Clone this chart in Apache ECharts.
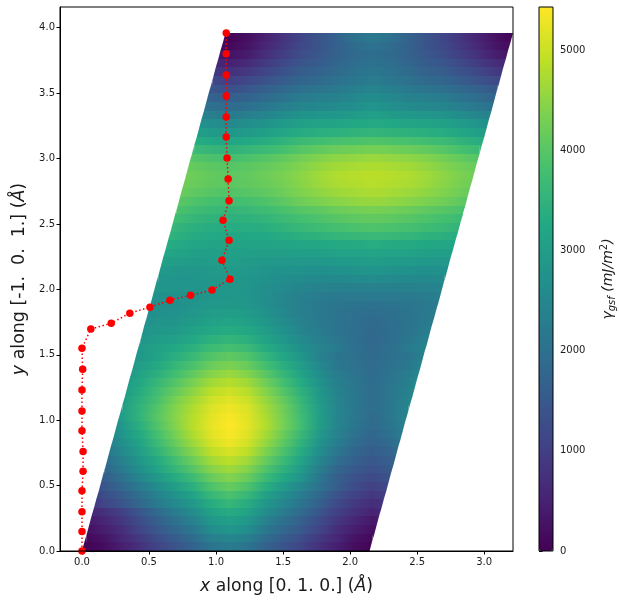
<!DOCTYPE html>
<html>
<head>
<meta charset="utf-8">
<style>html,body{margin:0;padding:0;background:#fff}#c{width:619px;height:605px}</style>
<script src="https://cdn.jsdelivr.net/npm/echarts@6/dist/echarts.min.js"></script>
</head>
<body>
<div id="c"></div>
<script>
// Tick labels
const xTicks = [0, 0.5, 1, 1.5, 2, 2.5, 3];
const yTicks = [0, 0.5, 1, 1.5, 2, 2.5, 3, 3.5, 4];
const barTicks = [0, 1000, 2000, 3000, 4000, 5000];
// Minimum energy path points
const pathX = [0,0,0,0,0.008,0.008,0,0,0,0.005,0,0.066,0.218,0.357,0.507,0.656,0.81,0.97,1.104,1.044,1.097,1.052,1.097,1.09,1.082,1.076,1.076,1.076,1.076,1.076,1.076];
const pathY = [0,0.15,0.30,0.46,0.61,0.76,0.92,1.07,1.23,1.39,1.55,1.696,1.741,1.818,1.864,1.917,1.955,1.994,2.078,2.223,2.376,2.529,2.677,2.843,3.003,3.164,3.317,3.478,3.638,3.80,3.96];
// Cell lattice
const latticeAx = 2.145, latticeBx = 1.07, latticeBy = 3.96, axisShift = 0.03;
const viridis = ['#440154','#482475','#414487','#355f8d','#2a788e','#21918c','#22a884','#44bf70','#7ad151','#bddf26','#fde725'];
const gammaMax = 5430;
// Energy by height (rows, bottom to top) and by horizontal distance from x = 1.1 (columns, 0 to 1.07)
const gamma = [
[2230,2100,1720,1400,1100,760,470,180,30],
[2480,2340,1930,1580,1290,920,590,280,110],
[2830,2640,2180,1830,1500,1100,720,440,230],
[3060,2880,2380,2030,1680,1270,870,570,350],
[3330,3120,2620,2250,1880,1450,1040,740,520],
[3600,3360,2860,2480,2090,1640,1210,900,690],
[3870,3610,3100,2680,2270,1820,1380,1070,870],
[4150,3900,3400,2950,2500,2040,1600,1240,1040],
[4410,4170,3680,3250,2780,2160,1640,1360,1210],
[4650,4420,3930,3460,2950,2320,1810,1510,1360],
[4880,4650,4150,3650,3130,2470,1970,1650,1460],
[5110,4880,4380,3870,3320,2640,2140,1790,1580],
[5300,5060,4570,4040,3480,2780,2270,1910,1690],
[5400,5170,4710,4180,3620,2910,2380,2010,1790],
[5430,5220,4800,4300,3750,3030,2460,2100,1860],
[5390,5190,4760,4280,3720,3040,2480,2140,1900],
[5310,5130,4700,4230,3670,3020,2480,2160,1930],
[5190,5010,4590,4130,3560,2960,2440,2160,1940],
[5020,4840,4430,3960,3450,2870,2390,2140,1930],
[4820,4650,4240,3780,3310,2770,2330,2120,1920],
[4600,4420,4020,3590,3150,2650,2260,2080,1900],
[4340,4170,3790,3400,3000,2530,2180,2040,1880],
[4080,3920,3560,3220,2840,2410,2100,1990,1860],
[3800,3670,3340,3030,2700,2430,2210,2000,1840],
[3550,3430,3150,2860,2570,2340,2140,1960,1830],
[3340,3230,2990,2710,2450,2260,2090,1950,1840],
[3170,3080,2860,2600,2380,2210,2070,1960,1870],
[3030,2960,2760,2520,2320,2190,2090,2000,1940],
[2900,2840,2680,2470,2300,2190,2120,2070,2040],
[2860,2800,2650,2490,2350,2260,2200,2200,2200],
[2860,2800,2680,2560,2450,2390,2360,2370,2380],
[2890,2840,2740,2660,2590,2550,2540,2570,2610],
[2940,2880,2780,2740,2720,2700,2720,2760,2800],
[3000,2960,2890,2870,2880,2880,2920,2950,2990],
[3070,3050,3020,3030,3060,3070,3120,3120,3170],
[3150,3130,3130,3170,3210,3240,3290,3310,3360],
[3230,3240,3260,3320,3420,3470,3560,3590,3640],
[3320,3350,3390,3490,3620,3710,3810,3860,3910],
[3440,3480,3540,3670,3790,3880,3990,4060,4110],
[3560,3620,3710,3850,3980,4070,4180,4260,4310],
[3750,3810,3900,4050,4230,4340,4450,4530,4580],
[3920,3980,4070,4200,4380,4510,4620,4690,4740],
[4030,4080,4170,4290,4460,4610,4740,4790,4830],
[4050,4100,4200,4320,4480,4640,4770,4820,4860],
[3970,4030,4120,4240,4400,4550,4670,4720,4760],
[3800,3870,3960,4090,4260,4400,4500,4550,4600],
[3500,3570,3660,3800,3970,4090,4190,4240,4290],
[3180,3260,3360,3500,3660,3750,3830,3870,3920],
[2840,2940,3040,3190,3340,3390,3440,3490,3540],
[2540,2640,2770,2920,3070,3120,3170,3230,3290],
[2220,2320,2460,2610,2760,2830,2880,2960,3060],
[1900,2000,2150,2300,2450,2530,2580,2680,2800],
[1600,1720,1890,2060,2240,2320,2400,2510,2620],
[1310,1450,1640,1820,2000,2090,2200,2330,2430],
[1010,1160,1360,1560,1760,1860,2010,2160,2260],
[740,890,1130,1350,1580,1700,1890,2050,2160],
[500,650,920,1170,1420,1570,1780,1950,2050],
[260,410,710,990,1260,1460,1690,1860,1960],
[110,280,570,870,1160,1400,1680,1910,2060],
[20,210,490,810,1110,1400,1710,2020,2200]
];
// Left of the x = 1.1 line the surface reads higher: rows 5 to 39 of the interior columns
const leftRowStart = 5;
const gammaLeft = [
[3360,2890,2560,2220,1820,1410,1100],
[3610,3130,2760,2400,2000,1580,1270],
[3900,3430,3030,2630,2220,1800,1440],
[4170,3710,3330,2910,2470,2020,1610],
[4440,3990,3580,3130,2690,2210,1760],
[4670,4210,3770,3310,2840,2370,1900],
[4900,4440,3990,3500,3010,2540,2040],
[5080,4630,4160,3660,3150,2670,2160],
[5190,4770,4300,3800,3280,2780,2260],
[5240,4860,4420,3930,3400,2860,2350],
[5210,4840,4460,4000,3510,2980,2440],
[5150,4780,4410,3950,3490,2980,2460],
[5030,4670,4310,3840,3430,2940,2460],
[4860,4510,4140,3730,3340,2890,2440],
[4670,4320,3960,3590,3240,2830,2420],
[4440,4100,3770,3430,3120,2760,2380],
[4190,3870,3580,3280,3000,2680,2340],
[3940,3640,3400,3120,2880,2600,2290],
[3700,3440,3250,3100,2910,2690,2300],
[3460,3250,3080,2970,2820,2620,2260],
[3260,3090,2930,2850,2740,2570,2250],
[3110,2960,2820,2780,2690,2550,2260],
[2990,2860,2740,2720,2670,2570,2300],
[2870,2780,2690,2700,2670,2600,2370],
[2830,2750,2710,2750,2740,2680,2500],
[2830,2780,2780,2850,2870,2840,2670],
[2860,2800,2780,2810,2830,2790,2770],
[2900,2840,2860,2940,2980,2970,2960],
[2980,2950,2990,3100,3160,3170,3150],
[3070,3080,3150,3280,3350,3370,3320],
[3150,3190,3290,3430,3520,3540,3510],
[3260,3320,3440,3640,3750,3810,3790],
[3360,3420,3540,3700,3810,3910,3960],
[3490,3570,3720,3870,3980,4090,4160],
[3630,3740,3900,4060,4170,4280,4360]
];

const font = 'DejaVu Sans';
const ink = '#1a1a1a';
const chart = echarts.init(document.getElementById('c'), null, {renderer:'canvas'});

const colorOf = v => echarts.color.lerp(Math.max(0, Math.min(1, v / gammaMax)), viridis);
const leftEdge = y => y * latticeBx / latticeBy;
const nCols = gamma[0].length - 1;
const period = 2 * latticeBx;
const cellW = period / (2 * nCols);
const rowH = latticeBy / gamma.length;
const lookup = (j, k) => {
  const left = gammaLeft[j - leftRowStart];
  if (left && k >= 1 && k < nCols) return left[nCols - k - 1];
  const m = ((k % (2 * nCols)) + 2 * nCols) % (2 * nCols);
  return gamma[j][Math.abs(m - nCols)];
};

const cells = [];
gamma.forEach((row, j) => {
  const yb = j * rowH, yt = (j + 1) * rowH;
  for (let k = -1; k * cellW < latticeBx + latticeAx + cellW; k++) {
    const xa = axisShift + k * cellW, xb = axisShift + (k + 1) * cellW;
    if (xb <= leftEdge(yb) || xa >= leftEdge(yt) + latticeAx) continue;
    cells.push([xa, xb, yb, yt, lookup(j, k), lookup(j, k + 1)]);
  }
});

function corner(api, x, y) {
  const lo = leftEdge(y), hi = lo + latticeAx;
  const inside = x > lo && x < hi;
  const p = api.coord([Math.max(lo, Math.min(hi, x)), y]);
  return [inside ? Math.round(p[0]) : p[0], Math.round(p[1])];
}

function renderCell(params, api) {
  const xa = api.value(0), xb = api.value(1), yb = api.value(2), yt = api.value(3);
  const pts = [corner(api, xa, yb), corner(api, xb, yb), corner(api, xb, yt), corner(api, xa, yt)];
  const p0 = api.coord([xa, yb]), p1 = api.coord([xb, yb]);
  const fill = {
    type:'linear', global:true, x:p0[0], y:0, x2:p1[0], y2:0,
    colorStops:[{offset:0,color:colorOf(api.value(4))},{offset:1,color:colorOf(api.value(5))}]
  };
  return {type:'polygon', shape:{points:pts}, style:{fill:fill, stroke:null, lineWidth:0}, silent:true};
}

const axisBits = {
  axisLine:{show:true,onZero:false,lineStyle:{color:'#000',width:1}},
  splitLine:{show:false}
};
const tickStyle = vals => ({show:true,length:3.5,inside:false,customValues:vals,lineStyle:{color:'#000',width:1}});
const labelStyle = (vals, fmt, m) => ({show:true,customValues:vals,formatter:fmt,fontFamily:font,fontSize:10,color:ink,margin:m});
const one = v => Number(v).toFixed(1);
const italicRich = size => ({i:{fontFamily:font,fontStyle:'italic',fontSize:size,color:ink}});

chart.setOption({
  animation:false,
  backgroundColor:'#fff',
  grid:[
    {left:60,top:7,width:453,height:544,show:true,borderColor:'#000',borderWidth:1,backgroundColor:'transparent',z:10,outerBoundsMode:'none'},
    {left:539,top:7,width:14,height:544,show:true,borderColor:'#000',borderWidth:1,backgroundColor:'transparent',z:10,outerBoundsMode:'none'}
  ],
  xAxis:[
    Object.assign({type:'value',gridIndex:0,min:-0.164,max:3.215,
      name:'{i|x} along [0. 1. 0.] ({i|Å})',nameLocation:'middle',nameGap:27,
      nameTextStyle:{fontFamily:font,fontSize:17.2,color:ink,rich:italicRich(17.2)},
      axisTick:tickStyle(xTicks),axisLabel:labelStyle(xTicks,one,6)},axisBits),
    {type:'value',gridIndex:1,min:0,max:1,show:false}
  ],
  yAxis:[
    Object.assign({type:'value',gridIndex:0,min:0,max:4.158,
      name:'{i|y} along [-1.  0.  1.] ({i|Å})',nameLocation:'middle',nameRotate:90,nameGap:31,
      nameTextStyle:{fontFamily:font,fontSize:17.4,color:ink,rich:italicRich(17.4)},
      axisTick:tickStyle(yTicks),axisLabel:labelStyle(yTicks,one,5)},axisBits),
    Object.assign({type:'value',gridIndex:1,position:'right',min:0,max:gammaMax,
      name:'{g|γ}{s|gsf}{g| (mJ/m}{p|2}{g|)}',nameLocation:'middle',nameRotate:90,nameGap:46,
      nameTextStyle:{fontFamily:font,fontSize:14,color:ink,rich:{
        g:{fontFamily:font,fontStyle:'italic',fontSize:14,color:ink},
        s:{fontFamily:font,fontStyle:'italic',fontSize:10,color:ink,verticalAlign:'bottom',lineHeight:16},
        p:{fontFamily:font,fontSize:10,color:ink,verticalAlign:'top',lineHeight:18}
      }},
      axisTick:tickStyle(barTicks),axisLabel:labelStyle(barTicks,v=>String(v),7)},axisBits,{axisLine:{show:false}})
  ],
  visualMap:{
    type:'continuous',min:0,max:gammaMax,seriesIndex:0,dimension:4,
    left:539,top:7,itemWidth:14,itemHeight:544,padding:0,
    calculable:false,hoverLink:false,text:null,inRange:{color:viridis},
    textStyle:{fontSize:0,color:'transparent'},z:4
  },
  series:[
    {type:'custom',xAxisIndex:0,yAxisIndex:0,coordinateSystem:'cartesian2d',
     renderItem:renderCell,data:cells,silent:true,clip:true,z:2,
     encode:{x:[0,1],y:[2,3]}},
    {type:'line',xAxisIndex:0,yAxisIndex:0,data:pathX.map((x,i)=>[x,pathY[i]]),
     symbol:'circle',symbolSize:7.5,showSymbol:true,showAllSymbol:true,clip:true,z:3,
     lineStyle:{color:'#ff0000',width:1.5,type:[1.5,2.5]},
     itemStyle:{color:'#ff0000',borderWidth:0}}
  ]
});
</script>
</body>
</html>
